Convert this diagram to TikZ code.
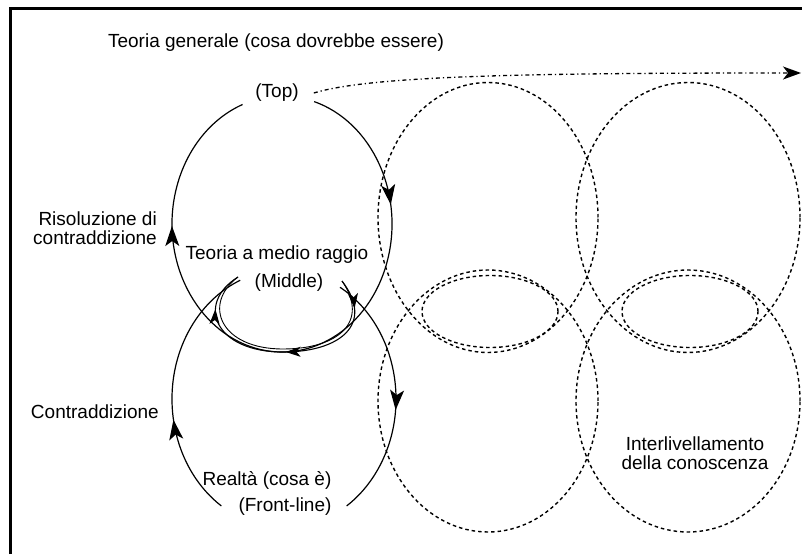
\documentclass[tikz,border=0pt]{standalone}
\usepackage{fontspec}
\setmainfont{Liberation Sans}
\usetikzlibrary{positioning,arrows.meta,decorations.markings}

\begin{document}
\begin{tikzpicture}[
  x=1pt, y=1pt,
  every node/.style={font=\fontsize{19}{18.5}\selectfont, inner sep=1pt},
  solidarc/.style={line width=1.2pt},
  dashring/.style={line width=1.4pt, dash pattern=on 3.5pt off 3pt},
  dashdotline/.style={line width=1.3pt, dash pattern=on 4pt off 3pt on 1.2pt off 3pt},
  ]
  \tikzset{%
    bigtip/.tip={Stealth[length=20pt,width=14pt,inset=5pt]},
    smalltip/.tip={Stealth[length=15pt,width=10pt,inset=4pt]},
    flow/.style={
      postaction={decorate,
        decoration={markings,mark=at position #1 with {\arrow{bigtip}}}},
    },
    smallflow/.style={
      postaction={decorate,
        decoration={markings,mark=at position #1 with {\arrow{smalltip}}}},
    },
  }
  \useasboundingbox (0,0) rectangle (802,554);
  %Frame
  \draw[line width=2.5pt] (10.5,0) |- (802,545.5);
  %Centres
  \coordinate (uc) at (282,330);
  \coordinate (lc) at (284,155);
  \coordinate (a1) at (488,336.5);
  \coordinate (a2) at (488,153);
  \coordinate (b1) at (688,336.5);
  \coordinate (b2) at (688,153);
  \coordinate (ai) at (490,242.5);
  \coordinate (bi) at (690,242.5);
  \coordinate (future) at (801,481);
  %Nodes
  \node (title) at (276,511) {Teoria generale (cosa dovrebbe essere)};
  \node (top) at (277,461) {(Top)};
  \node[anchor=east,align=right] (risol) at (158,326) {Risoluzione di\\contraddizione};
  \node (medio) at (277,299) {Teoria a medio raggio};
  \node (middle) at (289,271) {(Middle)};
  \node[anchor=east] (contr) at (160,142) {Contraddizione};
  \node (realta) at (267,74) {Realtà (cosa è)};
  \node (front) at (285,47) {(Front-line)};
  \node[align=center] (inter) at (695,101) {Interlivellamento\\della conoscenza};
  %Lines
  % Solid loops
  \draw[solidarc, flow=.2, flow=.78]
    ([shift={(73:110pt and 128pt)}]uc)
    arc[start angle=73, end angle=-249, x radius=110pt, y radius=128pt];
  \draw[solidarc, flow=.56]
    ([shift={(60:112pt and 129pt)}]lc)
    arc[start angle=60, end angle=-56, x radius=112pt, y radius=129pt];
  \draw[solidarc, flow=.38]
    ([shift={(236:112pt and 129pt)}]lc)
    arc[start angle=236, end angle=113, x radius=112pt, y radius=129pt];
  % Return from middle
  \draw[line width=1.1pt, smallflow=.12, smallflow=.48, smallflow=.84]
    (342,273) .. controls (375,230) and (340,202) .. (283,202)
    .. controls (215,202) and (195,250) .. (238,277);
  \draw[line width=0.9pt]
    (342,273) .. controls (370,232) and (338,205) .. (283,205)
    .. controls (220,205) and (202,250) .. (238,277);
  % Dashed loops
  \draw[dashdotline, -{Stealth[length=18pt,width=13pt,inset=5pt]}]
    ([xshift=14pt]top.east) .. controls (370,478) and (520,481) .. (future);
  \draw[dashring] (a1) ellipse[x radius=110pt, y radius=135pt];
  \draw[dashring] (a2) ellipse[x radius=110pt, y radius=131pt];
  \draw[dashring] (b1) ellipse[x radius=112pt, y radius=135pt];
  \draw[dashring] (b2) ellipse[x radius=112pt, y radius=131pt];
  \draw[dashring] (ai) ellipse[x radius=68pt, y radius=36pt];
  \draw[dashring] (bi) ellipse[x radius=68pt, y radius=36pt];
\end{tikzpicture}
\end{document}
